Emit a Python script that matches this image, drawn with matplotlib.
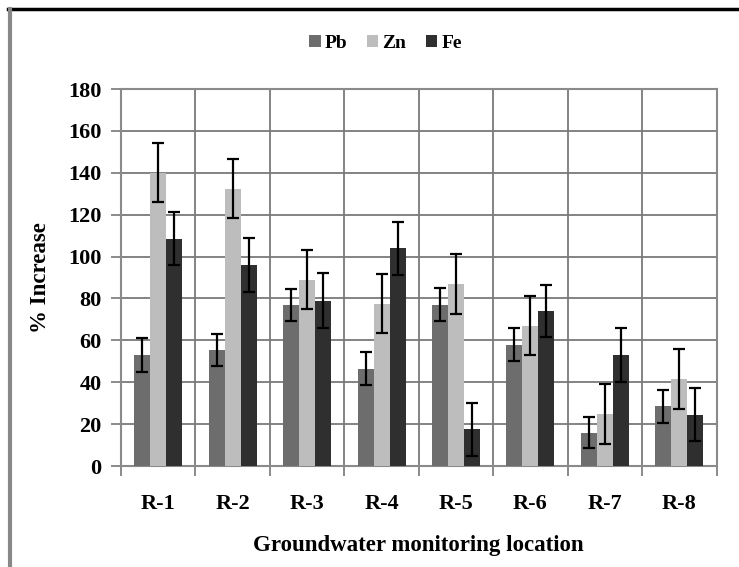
import matplotlib
matplotlib.use("Agg")
import matplotlib.pyplot as plt
import numpy as np

plt.rcParams["font.family"] = ["Liberation Serif", "DejaVu Serif"]
plt.rcParams["font.weight"] = "bold"
plt.rcParams["axes.labelweight"] = "bold"

locations = ["R-1", "R-2", "R-3", "R-4", "R-5", "R-6", "R-7", "R-8"]
pb = [53, 55.5, 77, 46.5, 77, 58, 16, 28.5]
zn = [140, 132.5, 89, 77.5, 87, 67, 25, 41.5]
fe = [108.5, 96, 79, 104, 17.5, 74, 53, 24.5]
pb_err = [8, 7.6, 7.6, 7.8, 7.8, 7.9, 7.6, 7.9]
zn_err = [14, 14, 14.2, 14, 14.4, 14, 14.3, 14.3]
fe_err = [12.6, 12.7, 13, 12.7, 12.7, 12.5, 12.9, 12.7]

series = [("Pb", pb, pb_err, "#6d6d6d"),
          ("Zn", zn, zn_err, "#bdbdbd"),
          ("Fe", fe, fe_err, "#2f2f2f")]

fig = plt.figure(figsize=(7.39, 5.67), dpi=100)
ax = fig.add_axes([0.1637, 0.178, 0.806, 0.665])

x = np.arange(len(locations))
width = 0.215
for i, (name, vals, errs, col) in enumerate(series):
    ax.bar(x + (i - 1) * width, vals, width, color=col, label=name, zorder=3,
           yerr=errs, error_kw=dict(ecolor="black", elinewidth=1.6, capsize=4, capthick=1.6, zorder=4))

ax.set_xlim(-0.5, len(locations) - 0.5)
ax.set_ylim(0, 180)
ax.set_yticks(np.arange(0, 181, 20))
ax.set_xticks(x)
ax.set_xticklabels(locations)
ax.set_xticks(np.arange(-0.5, len(locations), 1), minor=True)
ax.tick_params(axis="x", which="major", length=0, pad=20, labelsize=16)
ax.tick_params(axis="x", which="minor", length=7, width=1.2, color="#777777")
ax.tick_params(axis="y", length=7, width=1.2, color="#777777", labelsize=16, pad=7)

ax.grid(True, axis="y", color="#7a7a7a", linewidth=1.3, zorder=0)
ax.grid(True, axis="x", which="minor", color="#7a7a7a", linewidth=1.3, zorder=0)
for s in ax.spines.values():
    s.set_color("#8a8a8a")
    s.set_linewidth(1.5)

ax.set_xlabel("Groundwater monitoring location", fontsize=16.5, labelpad=15)
ax.set_ylabel("% Increase", fontsize=16.5, labelpad=12)

ax.legend(loc="center", bbox_to_anchor=(0.444, 1.122), ncol=3, frameon=False,
          fontsize=14, handlelength=0.6, handleheight=0.6, handletextpad=0.2,
          columnspacing=1.0)

# outer frame lines (top and left) as in the source figure
fig.add_artist(plt.Line2D([0.011, 1.0], [0.984, 0.984], color="black", linewidth=2.5))
fig.add_artist(plt.Line2D([0.013, 0.013], [0.0, 0.984], color="#888888", linewidth=3))

fig.savefig("out.png", dpi=100)
